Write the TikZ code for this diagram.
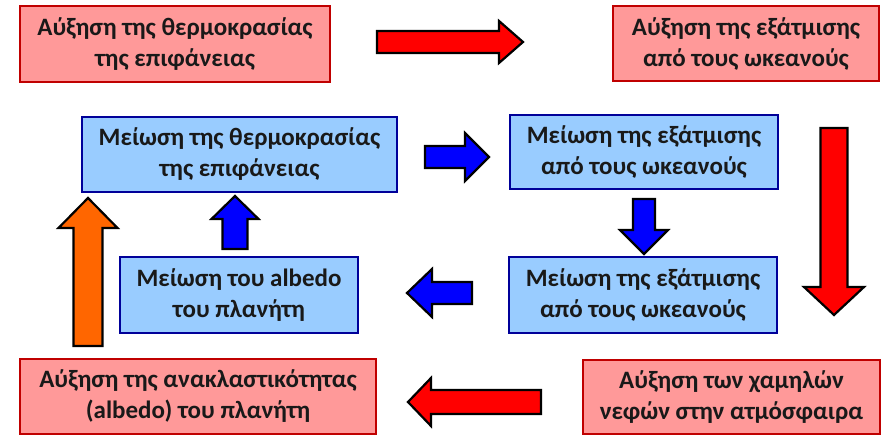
\documentclass[tikz,border=0pt]{standalone}
\usepackage{fontspec}
\setmainfont{Carlito}
\usetikzlibrary{calc}
\definecolor{rfill}{HTML}{FF9999}
\definecolor{rdraw}{HTML}{C00000}
\definecolor{bfill}{HTML}{99CCFF}
\definecolor{bdraw}{HTML}{000099}
\definecolor{aorange}{HTML}{FF6600}
\newcommand\barrow[6]{%
  \coordinate (hb) at ($(#2)!#5!(#1)$);
  \draw[arrowline, fill=#6] ($(#1)!#3!90:(#2)$) -- ($(hb)!#3!90:(#2)$) -- ($(hb)!#4!90:(#2)$) -- (#2)
    -- ($(hb)!#4!-90:(#2)$) -- ($(hb)!#3!-90:(#2)$) -- ($(#1)!#3!-90:(#2)$) -- cycle;}
\begin{document}
\begin{tikzpicture}[x=1pt,y=-1pt,
  box/.style={draw, line width=1.5pt, align=center, inner sep=0pt,
    font=\fontsize{25}{31}\selectfont\bfseries, text=black!90},
  redbox/.style={box, fill=rfill, draw=rdraw},
  bluebox/.style={box, fill=bfill, draw=bdraw},
  arrowline/.style={draw=black, line width=2.2pt, line join=miter, miter limit=10}]
\useasboundingbox (0,0) rectangle (887,435);
\node[redbox, minimum width=310pt, minimum height=76pt] (r1) at (175,44) {Αύξηση της θερμοκρασίας\\της επιφάνειας};
\node[redbox, minimum width=266pt, minimum height=75pt] (r2) at (746,43.5) {Αύξηση της εξάτμισης\\από τους ωκεανούς};
\node[bluebox, minimum width=315pt, minimum height=75pt] (b1) at (239.5,154.5) {Μείωση της θερμοκρασίας\\της επιφάνειας};
\node[bluebox, minimum width=268pt, minimum height=74pt] (b2) at (644,152) {Μείωση της εξάτμισης\\από τους ωκεανούς};
\node[bluebox, minimum width=238pt, minimum height=76pt] (b3) at (239,295) {Μείωση του albedo\\του πλανήτη};
\node[bluebox, minimum width=268pt, minimum height=76pt] (b4) at (643,295) {Μείωση της εξάτμισης\\από τους ωκεανούς};
\node[redbox, minimum width=356pt, minimum height=75pt] (r3) at (198,396.5) {Αύξηση της ανακλαστικότητας\\(albedo) του πλανήτη};
\node[redbox, minimum width=297pt, minimum height=74pt] (r4) at (731.5,397) {Αύξηση των χαμηλών\\νεφών στην ατμόσφαιρα};
% block arrows: tail and tip coordinates
\coordinate (a1t) at (377,42);  \coordinate (a1h) at (523,42);
\coordinate (a2t) at (425,157); \coordinate (a2h) at (489,157);
\coordinate (a3t) at (644,199); \coordinate (a3h) at (644,254);
\coordinate (a4t) at (834,128); \coordinate (a4h) at (834,315);
\coordinate (a5t) at (472,293); \coordinate (a5h) at (407,293);
\coordinate (a6t) at (541,402); \coordinate (a6h) at (408,402);
\coordinate (a7t) at (88,346);  \coordinate (a7h) at (88,198);
\coordinate (a8t) at (235,249); \coordinate (a8h) at (235,196);
\barrow{a1t}{a1h}{11pt}{21pt}{24pt}{red}
\barrow{a2t}{a2h}{11pt}{24pt}{24pt}{blue}
\barrow{a3t}{a3h}{11pt}{24pt}{24pt}{blue}
\barrow{a4t}{a4h}{13.5pt}{30pt}{28pt}{red}
\barrow{a5t}{a5h}{11pt}{24pt}{25pt}{blue}
\barrow{a6t}{a6h}{12pt}{24pt}{23pt}{red}
\barrow{a7t}{a7h}{14.5pt}{29.5pt}{30pt}{aorange}
\barrow{a8t}{a8h}{12.5pt}{23.5pt}{23pt}{blue}
\end{tikzpicture}
\end{document}
